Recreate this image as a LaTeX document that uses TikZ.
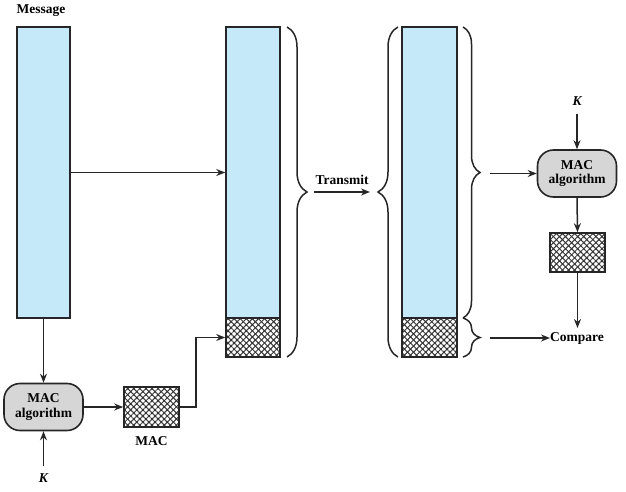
\documentclass[tikz,border=0pt]{standalone}
\usepackage{fontspec}
\setmainfont{Liberation Serif}
\usetikzlibrary{arrows.meta,patterns.meta,decorations.pathreplacing}
\begin{document}
\begin{tikzpicture}[x=1pt,y=-1pt,
  lbl/.style={font=\bfseries\fontsize{13.5}{14.5}\selectfont, inner sep=0pt, align=center},
  klbl/.style={font=\bfseries\itshape\fontsize{13.5}{14.5}\selectfont, inner sep=0pt},
  msgbox/.style={draw=black!85, line width=1.6pt, fill={rgb,255:red,197;green,233;blue,248}, inner sep=0pt},
  hatchbox/.style={draw=black!85, line width=1.6pt, fill=white, inner sep=0pt,
    postaction={pattern={Lines[angle=45,distance=4.3pt,line width=1pt]}, pattern color=black!80},
    postaction={pattern={Lines[angle=-45,distance=4.3pt,line width=1pt]}, pattern color=black!80},
    postaction={draw=black!85, line width=1.6pt}},
  algbox/.style={draw=black!85, line width=1.6pt, fill={rgb,255:red,214;green,214;blue,214},
    rounded corners=16pt, minimum width=79pt, minimum height=47pt, inner sep=0pt,
    font=\bfseries\fontsize{13.5}{14.5}\selectfont, align=center},
  arr/.style={draw=black!85, line width=1.5pt, -{Stealth[length=9pt,width=7pt]}},
  brc/.style={draw=black!85, line width=1.5pt, decorate}
]
\useasboundingbox (0,0) rectangle (626,492);

% left: message
\node[lbl] (msglbl) at (41,11) {Message};
\node[msgbox, minimum width=53pt, minimum height=291pt] (m) at (43.5,172.5) {};
\node[algbox] (alg1) at (43.5,407) {MAC\\algorithm};
\node[klbl] (k1) at (43.5,478) {K};
\node[hatchbox, minimum width=55pt, minimum height=40pt] (mac1) at (151.5,407) {};
\node[lbl] (maclbl) at (151.5,441) {MAC};

% second column
\node[msgbox, minimum width=54pt, minimum height=291pt] (c2) at (253,172.5) {};
\node[hatchbox, minimum width=54pt, minimum height=39pt] (h2) at (253,337.5) {};

% third column
\node[msgbox, minimum width=55pt, minimum height=291pt] (c3) at (429.5,172.5) {};
\node[hatchbox, minimum width=55pt, minimum height=39pt] (h3) at (429.5,337.5) {};

% right side
\node[klbl] (k2) at (577,101) {K};
\node[algbox] (alg2) at (577,173.5) {MAC\\algorithm};
\node[hatchbox, minimum width=55pt, minimum height=39pt] (mac2) at (577.5,252.5) {};
\node[lbl, anchor=west] (cmp) at (550,338) {Compare};

% connectors left
\draw[arr] (m.east) -- (c2.west);
\draw[arr] (m.south) -- (alg1.north);
\coordinate (k1s) at (43.5,466);
\draw[arr] (k1s) -- (alg1.south);
\draw[arr] (alg1.east) -- (mac1.west);
\coordinate (bend) at (196,407);
\draw[arr] (mac1.east) -- (bend) |- (h2.west);

% braces
\draw[brc, decoration={brace, amplitude=20pt}] (287,27) -- (287,357);
\draw[brc, decoration={brace, amplitude=20pt}] (398,357) -- (398,27);
\draw[brc, decoration={brace, amplitude=17pt}] (463,27) -- (463,318);
\draw[brc, decoration={brace, amplitude=17pt}] (463,318) -- (463,357);

% transmit
\coordinate (t1) at (314,192);
\coordinate (t2) at (370,192);
\draw[arr] (t1) -- (t2);
\node[lbl] (tr) at (342,180) {Transmit};

% connectors right
\coordinate (r1) at (490,173.5);
\draw[arr] (r1) -- (alg2.west);
\coordinate (k2s) at (577,114);
\draw[arr] (k2s) -- (alg2.north);
\draw[arr] (alg2.south) -- (mac2.north);
\coordinate (cmpn) at (577.5,328);
\draw[arr] (mac2.south) -- (cmpn);
\coordinate (r2) at (490,338);
\draw[arr] (r2) -- (cmp.west);
\end{tikzpicture}
\end{document}
